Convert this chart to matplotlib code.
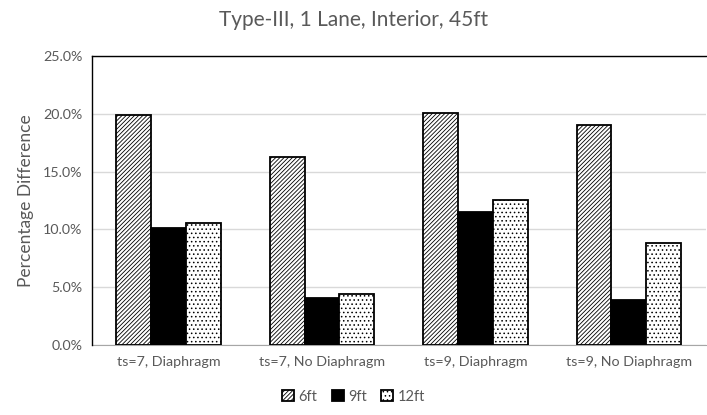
import matplotlib
matplotlib.use("Agg")
import matplotlib.pyplot as plt
import numpy as np
from matplotlib.ticker import FuncFormatter

plt.rcParams['font.family'] = ['Lato', 'DejaVu Sans']
plt.rcParams['hatch.linewidth'] = 0.6

categories = ["ts=7, Diaphragm", "ts=7, No Diaphragm", "ts=9, Diaphragm", "ts=9, No Diaphragm"]
series_names = ["6ft", "9ft", "12ft"]
v6 = [19.9, 16.3, 20.05, 19.05]
v9 = [10.15, 4.05, 11.5, 3.9]
v12 = [10.55, 4.45, 12.55, 8.85]
yticks = [0, 5, 10, 15, 20, 25]

fig = plt.figure(figsize=(7.07, 4.15), dpi=100)
ax = fig.add_axes([0.130, 0.1687, 0.868, 0.6963])

x = np.arange(len(categories))
w = 0.227
styles = [dict(color='white', hatch='////////'), dict(color='black', hatch=None), dict(color='white', hatch='....')]
for i, (vals, st) in enumerate(zip([v6, v9, v12], styles)):
    ax.bar(x + (i - 1) * w, vals, w, facecolor=st['color'], edgecolor='black',
           hatch=st['hatch'], linewidth=1.3, label=series_names[i], zorder=3)

ax.set_xlim(-0.5, len(categories) - 0.5)
ax.set_ylim(0, 25)
ax.set_yticks(yticks)
ax.yaxis.set_major_formatter(FuncFormatter(lambda v, p: f"{v:.1f}%"))
ax.set_xticks(x)
ax.set_xticklabels(categories)
ax.grid(axis='y', color='#d9d9d9', linewidth=1, zorder=0)
ax.tick_params(axis='both', length=0, labelsize=10.3, labelcolor='#595959', pad=7)
ax.tick_params(axis='x', pad=8)
for s in ['top', 'right']:
    ax.spines[s].set_visible(False)
ax.spines['left'].set_visible(False)
ax.spines['bottom'].set_color('#a6a6a6')
ax.set_ylabel("Percentage Difference", fontsize=12.5, color='#595959', labelpad=6)

fig.suptitle("Type-III, 1 Lane, Interior, 45ft", fontsize=15, color='#595959', y=0.975)

# chart area border around plot on left/top as in reference
fig.add_artist(plt.Line2D([0.130, 0.130], [0.1687, 0.865], color='black', linewidth=1, transform=fig.transFigure))
fig.add_artist(plt.Line2D([0.130, 0.998], [0.865, 0.865], color='black', linewidth=1, transform=fig.transFigure))

leg = fig.legend(loc='lower center', bbox_to_anchor=(0.5, -0.005), ncol=3, frameon=False,
                 fontsize=10.5, handlelength=0.8, handleheight=0.8, handletextpad=0.3, columnspacing=1.0)
for t in leg.get_texts():
    t.set_color('#595959')

fig.savefig("out.png", dpi=100)
